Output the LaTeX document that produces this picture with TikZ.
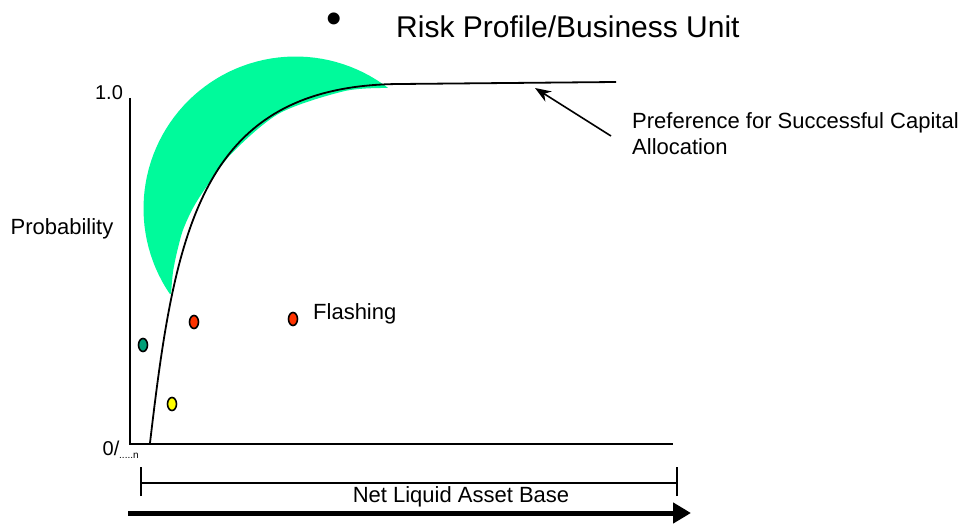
\documentclass[tikz,border=0pt]{standalone}
\usepackage{fontspec}
\setmainfont{Liberation Sans}
\usetikzlibrary{arrows.meta,shapes.geometric}
\definecolor{crescent}{RGB}{0,250,155}
\definecolor{tealdot}{RGB}{0,160,120}
\definecolor{reddot}{RGB}{255,51,0}
\definecolor{yellowdot}{RGB}{255,255,0}
\tikzset{
  lbl/.style={inner sep=0pt, font=\fontsize{22}{26}\selectfont},
  dot/.style={ellipse, draw, line width=1.6pt, minimum width=9pt, minimum height=13pt, inner sep=0pt},
  axis/.style={line width=1.8pt}
}

\begin{document}
\begin{tikzpicture}[x=1pt,y=-1pt]
    \useasboundingbox (0,0) rectangle (972,529);
    % title
    \node[inner sep=0pt, anchor=base, font=\fontsize{44}{48}\selectfont] (bul) at (334,34) {\textbullet};
    \node[lbl, anchor=base west, font=\fontsize{30}{34}\selectfont] (title) at (396,38) {Risk Profile/Business Unit};
    % green crescent
    \fill[crescent] plot[domain=146:307.3, samples=60] ({295.5+152*cos(\x)},{208.5+152*sin(\x)})
        -- plot[smooth] coordinates {(388,88) (345,91) (280,113) (233,152) (207,186) (193,208) (183,230) (177,252) (173,272) (171,294)} -- cycle;
    % axes
    \coordinate (o) at (130,444);
    \coordinate (ytop) at (130,98);
    \coordinate (xend) at (673,444);
    \draw[axis] (ytop) -- (o) -- (xend);
    \node[lbl, font=\fontsize{20}{24}\selectfont] (one) at (109,93) {1.0};
    \node[lbl, font=\fontsize{20}{24}\selectfont] (zero) at (111,448) {0/};
    \node[inner sep=0pt, font=\fontsize{10}{11}\selectfont, anchor=south west] (dots) at (119,459) {.....n};
    \node[lbl] (prob) at (62,229) {Probability};
    % curve
    \coordinate (c0) at (150,443);
    \coordinate (c1) at (400,84);
    \coordinate (c2) at (616,82);
    \draw[line width=1.8pt] (c0) .. controls (175,230) and (200,85) .. (c1) -- (c2);
    % preference label
    \node[lbl, anchor=west, align=left] (pref) at (632,134) {Preference for Successful Capital\\Allocation};
    \coordinate (tail) at (611,136);
    \coordinate (head) at (535,88);
    \draw[line width=1.6pt, -{Stealth[length=16pt,width=12pt]}] (tail) -- (head);
    % dots
    \node[dot, fill=tealdot] (d1) at (143,345) {};
    \node[dot, fill=reddot] (d2) at (194,322) {};
    \node[dot, fill=reddot] (d3) at (293,319) {};
    \node[dot, fill=yellowdot] (d4) at (172,404) {};
    \node[lbl, anchor=west] (flash) at (313,314) {Flashing};
    % bottom range
    \coordinate (bl) at (141,483);
    \coordinate (br) at (677,483);
    \draw[line width=1.5pt] (bl) -- (br);
    \draw[line width=1.5pt] ([yshift=-13pt]bl) -- ([yshift=16pt]bl);
    \draw[line width=1.5pt] ([yshift=-13pt]br) -- ([yshift=16pt]br);
    \node[lbl] (base) at (461,497) {Net Liquid Asset Base};
    \coordinate (al) at (128,513);
    \coordinate (ar) at (691,513);
    \draw[line width=5pt, -{Triangle[length=18pt,width=20pt]}] (al) -- (ar);
\end{tikzpicture}
\end{document}
